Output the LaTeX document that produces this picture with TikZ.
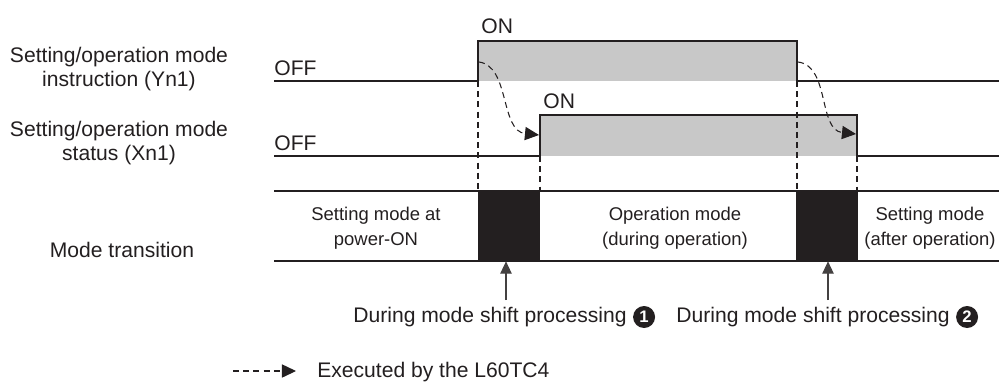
\documentclass[tikz,border=0pt]{standalone}
\usepackage{fontspec}
\setmainfont{Liberation Sans}
\usetikzlibrary{arrows.meta, positioning, calc}
\definecolor{ink}{RGB}{35,31,32}
\definecolor{onfill}{RGB}{200,200,200}

\begin{document}
\begin{tikzpicture}[x=0.02cm, y=-0.02cm, text=ink,
    font=\fontsize{12}{13.8}\selectfont,
    signal/.style={draw=ink, line width=0.85pt},
    guide/.style={draw=ink, line width=0.6pt, dash pattern=on 3.4pt off 2.4pt},
    flow/.style={draw=ink, line width=0.6pt, dash pattern=on 3.4pt off 2.4pt,
      -{Triangle[length=8pt, width=7.5pt]}},
    callout/.style={draw=ink!85, line width=0.6pt, -{Triangle[length=7pt, width=6.5pt]}},
    busy/.style={fill=ink, draw=none, inner sep=0pt, minimum width=1.24cm, minimum height=1.4cm},
    modetext/.style={align=center, font=\fontsize{10.5}{14}\selectfont},
    badge/.style={circle, fill=ink, text=white, inner sep=0pt, minimum size=0.44cm,
      font=\bfseries\fontsize{9.5}{9.5}\selectfont}]
    \useasboundingbox (0,0) rectangle (999,383);

    % Row labels
    \node[align=center] (ylab) at (119,69) {Setting/operation mode\\instruction (Yn1)};
    \node[align=center] (xlab) at (119,143) {Setting/operation mode\\status (Xn1)};
    \node (mlab) at (122,250) {Mode transition};

    % Yn1 signal
    \fill[onfill] (478,41) rectangle (797,81);
    \draw[signal] (274,81) -- (478,81) -- (478,41) -- (797,41) -- (797,81) -- (999,81);
    \node[anchor=base west, inner sep=0pt] (yoff) at (274,75) {OFF};
    \node[anchor=base west, inner sep=0pt] (yon) at (481,33) {ON};

    % Xn1 signal
    \fill[onfill] (540,115) rectangle (857,156);
    \draw[signal] (274,156) -- (540,156) -- (540,115) -- (857,115) -- (857,156) -- (999,156);
    \node[anchor=base west, inner sep=0pt] (xoff) at (274,150) {OFF};
    \node[anchor=base west, inner sep=0pt] (xon) at (543,108) {ON};

    % Mode band
    \draw[ink, line width=0.7pt] (274,191) -- (999,191);
    \draw[ink, line width=0.7pt] (274,261) -- (999,261);
    \node[busy] (busy1) at (509,226) {};
    \node[busy] (busy2) at (827,226) {};
    \node[modetext] (initmode) at (376,228) {Setting mode at\\power-ON};
    \node[modetext] (runmode) at (675,228) {Operation mode\\(during operation)};
    \node[modetext] (aftermode) at (930,228) {Setting mode\\(after operation)};

    % Dashed guides down to the band
    \foreach \x/\y in {478/81, 540/156, 797/81, 857/156} {
      \draw[guide] (\x,\y) -- (\x,191);
    }

    % Executed by the module
    \coordinate (go1) at (479,62);
    \coordinate (got1) at (539,135);
    \coordinate (go2) at (798,62);
    \coordinate (got2) at (856,134);
    \draw[flow] (go1) .. controls (510,66) and (500,131) .. (got1);
    \draw[flow] (go2) .. controls (830,66) and (818,130) .. (got2);

    % Mode shift callouts
    \node (shift1) at (490,317) {During mode shift processing};
    \node[badge, right=0pt of shift1] (num1) {1};
    \node (shift2) at (813,317) {During mode shift processing};
    \node[badge, right=0pt of shift2] (num2) {2};
    \coordinate (tail1) at (506,300);
    \coordinate (tail2) at (828,300);
    \draw[callout] (tail1) -- (tail1 |- busy1.south);
    \draw[callout] (tail2) -- (tail2 |- busy2.south);

    % Legend
    \coordinate (legstart) at (233,371);
    \coordinate (legtip) at (296,371);
    \draw[flow] (legstart) -- (legtip);
    \node[anchor=west, inner sep=0pt] (legend) at (317,372) {Executed by the L60TC4};
\end{tikzpicture}
\end{document}
